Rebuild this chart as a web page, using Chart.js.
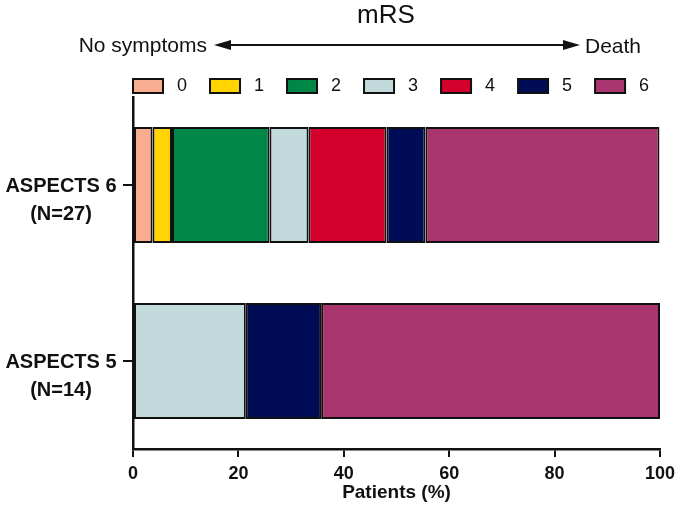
<!DOCTYPE html>
<html>
<head>
<meta charset="utf-8">
<script src="https://cdn.jsdelivr.net/npm/chart.js@4/dist/chart.umd.min.js"></script>
<style>
html,body{margin:0;padding:0;background:#fff;}
#wrap{width:680px;height:512px;}
</style>
</head>
<body>
<div id="wrap"><canvas id="c" width="680" height="512"></canvas></div>
<script>
const categories = ['ASPECTS 6', 'ASPECTS 5'];
const subLabels = ['(N=27)', '(N=14)'];
const mrsLabels = ['0', '1', '2', '3', '4', '5', '6'];
const mrs0 = [3.7, null];
const mrs1 = [3.7, null];
const mrs2 = [18.5, null];
const mrs3 = [7.4, 21.4];
const mrs4 = [14.8, null];
const mrs5 = [7.4, 14.3];
const mrs6 = [44.4, 64.3];
const xTicks = [0, 20, 40, 60, 80, 100];
const colors = ['#F8AD90', '#FFD400', '#008647', '#C3DADC', '#D4002C', '#000C55', '#A8356D'];

const series = [mrs0, mrs1, mrs2, mrs3, mrs4, mrs5, mrs6];
const FONT = '"Liberation Sans", Arial, sans-serif';

const legendPlacePlugin = {
  id: 'legendPlace',
  afterLayout(chart) {
    const lg = chart.legend;
    if (!lg) return;
    const w = lg.right - lg.left, h = lg.bottom - lg.top;
    lg.left = 110; lg.right = 110 + w;
    lg.top = 54; lg.bottom = 54 + h;
  }
};

const headerPlugin = {
  id: 'header',
  afterDraw(chart) {
    const ctx = chart.ctx;
    ctx.save();
    ctx.fillStyle = '#111';
    ctx.textBaseline = 'middle';
    ctx.font = '26px ' + FONT;
    ctx.textAlign = 'center';
    ctx.fillText('mRS', 386, 16);
    ctx.font = '21px ' + FONT;
    ctx.textAlign = 'right';
    ctx.fillText('No symptoms', 207, 46);
    ctx.textAlign = 'left';
    ctx.fillText('Death', 585, 47);
    // arrow
    ctx.strokeStyle = '#111';
    ctx.lineWidth = 2;
    ctx.beginPath();
    ctx.moveTo(228, 45);
    ctx.lineTo(566, 45);
    ctx.stroke();
    ctx.beginPath();
    ctx.moveTo(214, 45); ctx.lineTo(231, 40); ctx.lineTo(231, 50); ctx.closePath();
    ctx.fill();
    ctx.beginPath();
    ctx.moveTo(580, 45); ctx.lineTo(563, 40); ctx.lineTo(563, 50); ctx.closePath();
    ctx.fill();
    // y category labels
    const ys = chart.scales.y;
    ctx.font = 'bold 20px ' + FONT;
    ctx.textAlign = 'center';
    categories.forEach((c, i) => {
      const y = ys.getPixelForTick(i);
      ctx.fillText(c, 61, y + 1);
      ctx.fillText(subLabels[i], 61, y + 29);
    });
    ctx.restore();
  }
};

new Chart(document.getElementById('c'), {
  type: 'bar',
  data: {
    labels: categories,
    datasets: series.map((d, i) => ({
      label: mrsLabels[i],
      data: d,
      backgroundColor: colors[i],
      borderColor: '#111',
      borderWidth: 2,
      borderSkipped: false,
      barPercentage: 1,
      categoryPercentage: 0.66
    }))
  },
  options: {
    indexAxis: 'y',
    responsive: false,
    animation: false,
    layout: { padding: { left: 0, right: 0, top: 46, bottom: 0 } },
    plugins: {
      tooltip: { enabled: false },
      legend: {
        display: true,
        position: 'top',
        align: 'start',
        labels: {
          boxWidth: 30,
          boxHeight: 14,
          padding: 23,
          color: '#111',
          font: { family: FONT, size: 18 },
          generateLabels(chart) {
            const items = Chart.defaults.plugins.legend.labels.generateLabels(chart);
            items.forEach(it => { it.text = ' ' + it.text; it.lineWidth = 2; });
            return items;
          }
        }
      }
    },
    scales: {
      x: {
        stacked: true,
        min: 0,
        max: 100,
        afterBuildTicks(scale) { scale.ticks = xTicks.map(v => ({ value: v })); },
        afterFit(scale) { scale.height = 63; scale.paddingRight = 20; },
        grid: { display: true, drawOnChartArea: false, drawTicks: true, tickLength: 8, color: '#111', lineWidth: 2 },
        border: { display: true, color: '#111', width: 2.5 },
        ticks: { color: '#111', padding: 6, font: { family: FONT, size: 18, weight: 'bold' } },
        title: { display: true, text: 'Patients (%)', color: '#111', padding: { top: 2, bottom: 8 }, font: { family: FONT, size: 19, weight: 'bold' } }
      },
      y: {
        stacked: true,
        afterFit(scale) { scale.width = 133; },
        grid: { display: true, offset: false, drawOnChartArea: false, drawTicks: true, tickLength: 10, color: '#111', lineWidth: 2 },
        border: { display: true, color: '#111', width: 2.5 },
        ticks: { display: false }
      }
    }
  },
  plugins: [legendPlacePlugin, headerPlugin]
});
</script>
</body>
</html>
